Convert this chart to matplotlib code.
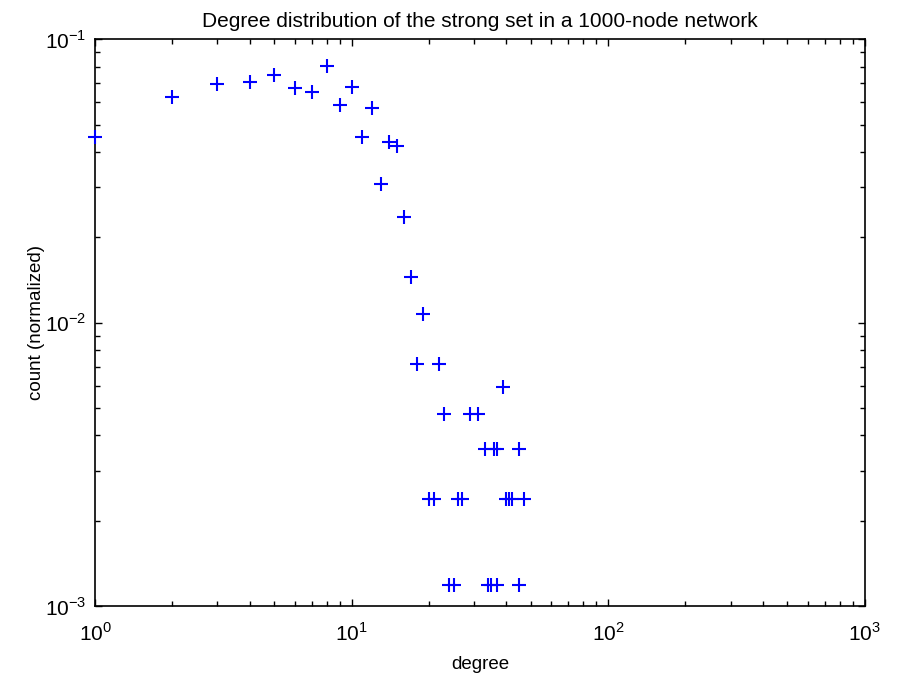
import matplotlib
matplotlib.use('Agg')
import matplotlib.pyplot as plt
from matplotlib.ticker import LogLocator, NullFormatter, FixedLocator
import numpy as np

plt.rcParams['font.family'] = ['Liberation Sans', 'DejaVu Sans']
plt.rcParams['mathtext.fontset'] = 'custom'
plt.rcParams['mathtext.rm'] = 'Liberation Sans'

# degree values and normalized counts
degree = [1, 2, 3, 4, 5, 6, 7, 8, 9, 10,
          11, 12, 13, 14, 15, 16, 17, 19,
          18, 22, 39, 23, 29, 31,
          33, 36, 37, 45,
          20, 21, 26, 27, 40, 41, 42, 47,
          24, 25, 34, 35, 37, 45]
count = [0.0453, 0.0624, 0.0693, 0.0704, 0.0748, 0.0673, 0.0651, 0.0804, 0.0587, 0.0680,
         0.0453, 0.0572, 0.0308, 0.0433, 0.0420, 0.02366, 0.01445, 0.01072,
         0.00714, 0.00714, 0.00595, 0.00476, 0.00476, 0.00476,
         0.00357, 0.00357, 0.00357, 0.00357,
         0.00238, 0.00238, 0.00238, 0.00238, 0.00238, 0.00238, 0.00238, 0.00238,
         0.00119, 0.00119, 0.00119, 0.00119, 0.00119, 0.00119]

fig = plt.figure(figsize=(8.97, 6.75), dpi=100)
ax = fig.add_axes([0.106, 0.1022, 0.858, 0.8396])

ax.plot(degree, count, '+', color='#0000ff', markersize=10, markeredgewidth=1.5,
        clip_on=False, zorder=5)

ax.set_xscale('log')
ax.set_yscale('log')
ax.set_xlim(1, 1000)
ax.set_ylim(1e-3, 1e-1)

ax.xaxis.set_major_locator(FixedLocator([1, 10, 100, 1000]))
ax.yaxis.set_major_locator(FixedLocator([1e-3, 1e-2, 1e-1]))
ax.xaxis.set_minor_locator(LogLocator(base=10, subs=np.arange(2, 10)))
ax.yaxis.set_minor_locator(LogLocator(base=10, subs=np.arange(2, 10)))
ax.xaxis.set_minor_formatter(NullFormatter())
ax.yaxis.set_minor_formatter(NullFormatter())
ax.set_xticklabels([r'$10^{0}$', r'$10^{1}$', r'$10^{2}$', r'$10^{3}$'])
ax.set_yticklabels([r'$10^{-3}$', r'$10^{-2}$', r'$10^{-1}$'])

ax.tick_params(which='both', direction='in', top=True, right=True, colors='black')
ax.tick_params(which='major', length=5, width=1, labelsize=15)
ax.tick_params(which='minor', length=3.5, width=1)
ax.tick_params(axis='x', pad=12)
ax.tick_params(axis='y', pad=6)
for s in ax.spines.values():
    s.set_linewidth(1.2)

ax.set_title('Degree distribution of the strong set in a 1000-node network', fontsize=15, pad=9)
ax.set_xlabel('degree', fontsize=13.5, labelpad=8)
ax.set_ylabel('count (normalized)', fontsize=13.5, labelpad=0)

fig.savefig('out.png', dpi=100)
